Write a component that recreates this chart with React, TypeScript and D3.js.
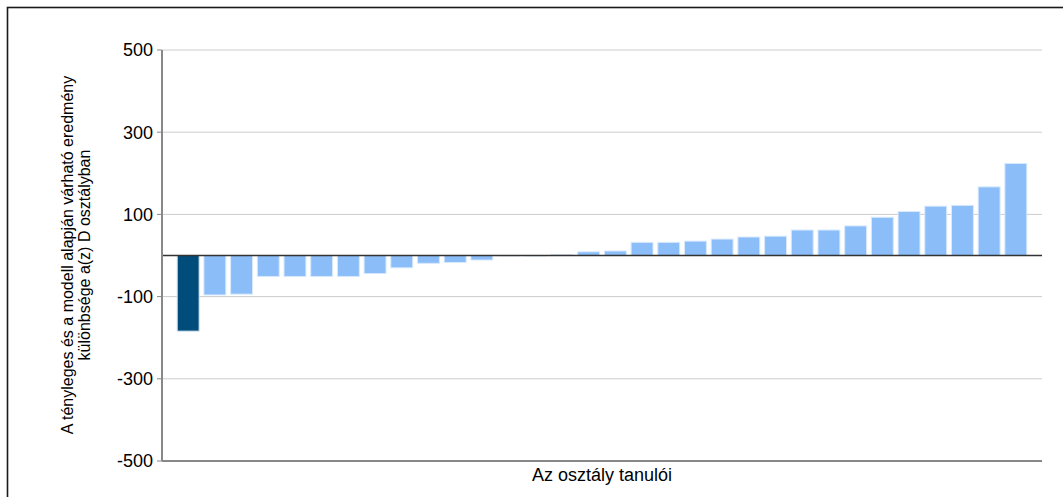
import * as d3 from "d3";

// differences per student (actual minus model-expected), sorted
const studentIds = d3.range(1, 33).map((i) => `S${i}`);
const diffValues = [
  -184, -96, -94, -51, -51, -51, -51, -44, -30, -19, -17, -11, -1, -1, 2, 9,
  11, 32, 32, 35, 40, 45, 47, 62, 62, 72, 93, 107, 120, 122, 167, 224,
];
const highlightId = "S1";
const yTicks = [500, 300, 100, -100, -300, -500];
const yTitleLines = [
  "A tényleges és a modell alapján várható eredmény",
  "különbsége a(z) D osztályban",
];
const xTitle = "Az osztály tanulói";

const W = 1063;
const H = 497;
const left = 162;
const right = 1042;
const top = 50;
const bottom = 461;
const font = "'Liberation Sans', Arial, sans-serif";

export default function App() {
  const x = d3
    .scaleBand<string>()
    .domain(studentIds)
    .range([left, right])
    .paddingInner(0.18)
    .paddingOuter(0.57);
  const y = d3.scaleLinear().domain([-500, 500]).range([bottom, top]);

  return (
    <div style={{ position: "absolute", left: 0, top: 0 }}>
      <svg width={W} height={H} style={{ display: "block", fontFamily: font }}>
        <rect x={0} y={0} width={W} height={H} fill="#fff" />
        {/* outer frame, runs off the right and bottom edges */}
        <rect
          x={7.5}
          y={7.5}
          width={W + 20}
          height={H + 20}
          fill="none"
          stroke="#1a1a1a"
          strokeWidth={1.6}
        />

        {/* grid */}
        {yTicks
          .filter((t) => t !== -500)
          .map((t) => (
            <line
              key={"g" + t}
              x1={left}
              x2={right}
              y1={y(t)}
              y2={y(t)}
              stroke="#cccccc"
              strokeWidth={1}
            />
          ))}

        {/* bars */}
        {diffValues.map((v, i) => {
          const id = studentIds[i];
          const y0 = y(0);
          const y1 = y(v);
          return (
            <rect
              key={id}
              x={x(id)}
              y={Math.min(y0, y1)}
              width={x.bandwidth()}
              height={Math.abs(y1 - y0)}
              fill={id === highlightId ? "#004c7a" : "#8bbdf8"}
              stroke={id === highlightId ? "#cfe0ee" : "#d8e9fd"}
              strokeWidth={1}
            />
          );
        })}

        {/* zero line */}
        <line
          x1={left}
          x2={right}
          y1={y(0)}
          y2={y(0)}
          stroke="#333"
          strokeWidth={1.4}
        />

        {/* axes */}
        <line
          x1={left}
          x2={left}
          y1={top}
          y2={bottom}
          stroke="#888"
          strokeWidth={2}
        />
        <line
          x1={left}
          x2={right}
          y1={bottom}
          y2={bottom}
          stroke="#888"
          strokeWidth={2}
        />
        {yTicks.map((t) => (
          <g key={"t" + t} transform={`translate(0,${y(t)})`}>
            <line x1={left - 5} x2={left} stroke="#888" strokeWidth={1} />
            <text
              x={left - 9}
              dy="0.35em"
              textAnchor="end"
              fontSize={18}
              fill="#000"
            >
              {t}
            </text>
          </g>
        ))}

        {/* titles */}
        <text
          transform={`translate(76,255) rotate(-90)`}
          textAnchor="middle"
          fontSize={16}
          fill="#000"
        >
          {yTitleLines.map((l, i) => (
            <tspan key={i} x={0} y={(i - 0.5) * 17} dy="0.35em">
              {l}
            </tspan>
          ))}
        </text>
        <text
          x={(left + right) / 2}
          y={481}
          textAnchor="middle"
          fontSize={18}
          fill="#000"
        >
          {xTitle}
        </text>
      </svg>
    </div>
  );
}
